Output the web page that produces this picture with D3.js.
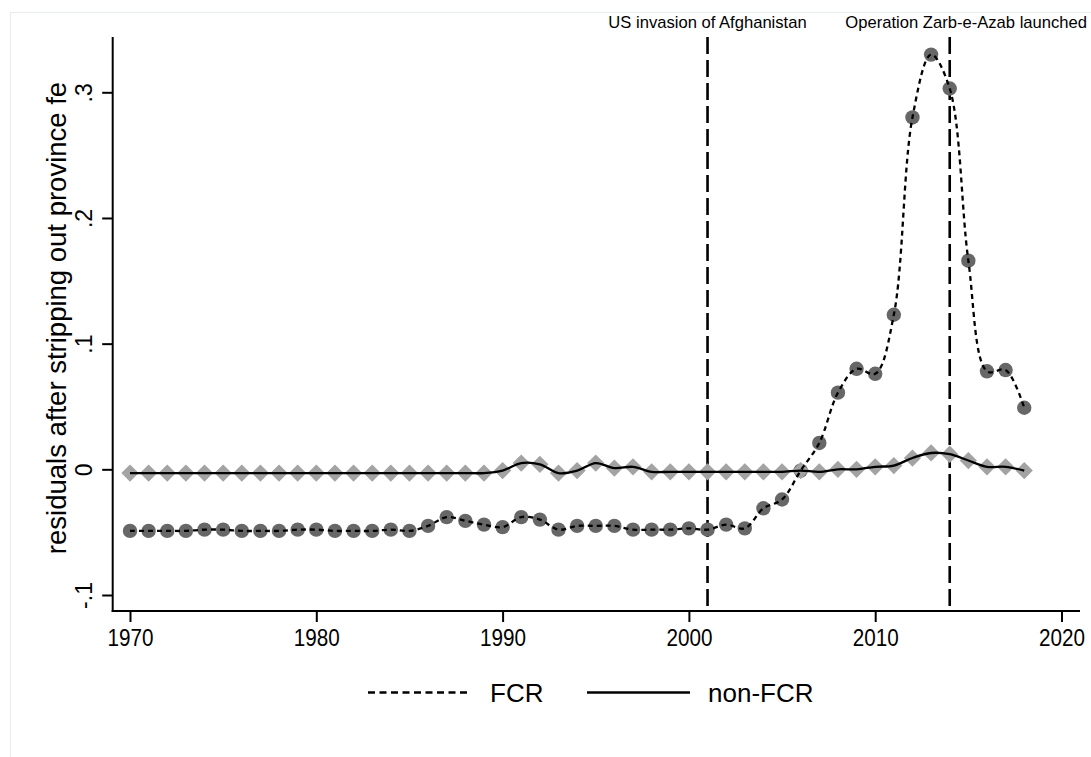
<!DOCTYPE html>
<html>
<head>
<meta charset="utf-8">
<script src="https://cdn.jsdelivr.net/npm/d3@7"></script>
<style>
  body { margin: 0; background: #fff; }
  text { font-family: "Liberation Sans", Arial, sans-serif; fill: #000; }
</style>
</head>
<body>
<script>
// years 1970..2018
var years = d3.range(1970, 2019);

var fcr = [
  -0.049, -0.049, -0.049, -0.049, -0.048, -0.048, -0.049, -0.049, -0.049, -0.048,
  -0.048, -0.049, -0.049, -0.049, -0.048, -0.049, -0.045, -0.038, -0.041, -0.044,
  -0.046, -0.038, -0.040, -0.048, -0.045, -0.045, -0.045, -0.048, -0.048, -0.048,
  -0.047, -0.048, -0.044, -0.047, -0.031, -0.024, -0.001, 0.021, 0.061, 0.080,
  0.076, 0.123, 0.280, 0.330, 0.303, 0.166, 0.078, 0.079, 0.049
];

var nonFcr = [
  -0.003, -0.003, -0.003, -0.003, -0.003, -0.003, -0.003, -0.003, -0.003, -0.003,
  -0.003, -0.003, -0.003, -0.003, -0.003, -0.003, -0.003, -0.003, -0.003, -0.003,
  -0.001, 0.005, 0.004, -0.003, -0.001, 0.005, 0.001, 0.002, -0.002, -0.002,
  -0.002, -0.002, -0.002, -0.002, -0.002, -0.002, -0.001, -0.002, 0.000, 0.000,
  0.002, 0.003, 0.009, 0.013, 0.012, 0.007, 0.002, 0.002, -0.001
];

var xTicks = [1970, 1980, 1990, 2000, 2010, 2020];
var yTicks = [-0.1, 0, 0.1, 0.2, 0.3];
var yTickLabels = ["-.1", "0", ".1", ".2", ".3"];

var events = [
  { year: 2001, label: "US invasion of Afghanistan" },
  { year: 2014, label: "Operation Zarb-e-Azab launched" }
];

var w = 1091,
  h = 757,
  plotLeft = 112.7,
  plotRight = 1080,
  plotTop = 37,
  plotBottom = 611;

var font = "'Liberation Sans', Arial, sans-serif";

var svg = d3.select("body")
  .append("svg")
  .attr("width", w)
  .attr("height", h);

// faint outer frame
svg.append("rect")
  .attr("x", 10.5)
  .attr("y", 12.5)
  .attr("width", 1100)
  .attr("height", 760)
  .attr("fill", "none")
  .attr("stroke", "#e8ecea")
  .attr("stroke-width", 1);

var xScale = d3.scaleLinear().domain([1970, 2020]).range([130, 1061.5]);
var yScale = d3.scaleLinear().domain([-0.1, 0.3]).range([595, 92.3]);

var fcrData = years.map((y, i) => ({ year: y, v: fcr[i] }));
var nonData = years.map((y, i) => ({ year: y, v: nonFcr[i] }));

// vertical event lines
svg.selectAll(".event-line")
  .data(events)
  .enter()
  .append("line")
  .attr("class", "event-line")
  .attr("x1", d => xScale(d.year))
  .attr("x2", d => xScale(d.year))
  .attr("y1", plotTop)
  .attr("y2", plotBottom)
  .attr("stroke", "#000")
  .attr("stroke-width", 2.6)
  .attr("stroke-dasharray", "17,6");

svg.append("text")
  .attr("x", xScale(2001))
  .attr("y", 28)
  .attr("text-anchor", "middle")
  .attr("font-size", 16.6)
  .text(events[0].label);

svg.append("text")
  .attr("x", 1087)
  .attr("y", 28)
  .attr("text-anchor", "end")
  .attr("font-size", 16.6)
  .text(events[1].label);

// markers
svg.selectAll(".dot")
  .data(fcrData)
  .enter()
  .append("circle")
  .attr("class", "dot")
  .attr("cx", d => xScale(d.year))
  .attr("cy", d => yScale(d.v))
  .attr("r", 7.2)
  .attr("fill", "#676767");

var diamond = d3.symbol().type(d3.symbolDiamond2).size(190);

svg.selectAll(".diamond")
  .data(nonData)
  .enter()
  .append("path")
  .attr("class", "diamond")
  .attr("d", diamond)
  .attr("transform", d => `translate(${xScale(d.year)}, ${yScale(d.v)})`)
  .attr("fill", "#a3a3a3");

var line = d3.line()
  .x(d => xScale(d.year))
  .y(d => yScale(d.v))
  .curve(d3.curveCatmullRom.alpha(0.5));

svg.append("path")
  .datum(fcrData)
  .attr("d", line)
  .attr("fill", "none")
  .attr("stroke", "#000")
  .attr("stroke-width", 2.3)
  .attr("stroke-dasharray", "5,4");

svg.append("path")
  .datum(nonData)
  .attr("d", line)
  .attr("fill", "none")
  .attr("stroke", "#000")
  .attr("stroke-width", 2.3);

// axes
var xAxis = d3.axisBottom(xScale).tickValues(xTicks).tickFormat(d3.format("d")).tickSize(11).tickPadding(7);
var gx = svg.append("g")
  .attr("id", "x-axis")
  .attr("transform", `translate(0, ${plotBottom})`)
  .call(xAxis);
gx.attr("font-size", 23.5).attr("font-family", font);
gx.select(".domain").remove();
gx.append("line")
  .attr("x1", plotLeft - 1)
  .attr("x2", plotRight)
  .attr("stroke", "#000")
  .attr("stroke-width", 2);
gx.selectAll(".tick line").attr("stroke-width", 2);
// the labels are tall and narrow in the original
gx.selectAll(".tick text")
  .attr("fill", "#000")
  .attr("transform", function() {
    var y = +d3.select(this).attr("y");
    return `translate(0, ${y}) scale(0.88, 1)`;
  })
  .attr("y", 0);

var yAxis = d3.axisLeft(yScale).tickValues(yTicks).tickFormat((d, i) => yTickLabels[i]).tickSize(10.5);
var gy = svg.append("g")
  .attr("id", "y-axis")
  .attr("transform", `translate(${plotLeft}, 0)`)
  .call(yAxis);
gy.attr("font-size", 23).attr("font-family", font);
gy.select(".domain").remove();
gy.append("line")
  .attr("y1", plotTop)
  .attr("y2", plotBottom + 1)
  .attr("stroke", "#000")
  .attr("stroke-width", 2);
gy.selectAll(".tick line").attr("stroke-width", 2);
gy.selectAll(".tick text")
  .attr("fill", "#000")
  .attr("x", null)
  .attr("dy", null)
  .attr("text-anchor", "middle")
  .attr("transform", "translate(-21, 0) rotate(-90)");

// y title
svg.append("text")
  .attr("transform", "translate(66, 318) rotate(-90)")
  .attr("text-anchor", "middle")
  .attr("font-size", 27.5)
  .text("residuals after stripping out province fe");

// legend
var legend = svg.append("g").attr("id", "legend");
legend.append("line")
  .attr("x1", 368).attr("x2", 470)
  .attr("y1", 692.5).attr("y2", 692.5)
  .attr("stroke", "#000")
  .attr("stroke-width", 2.3)
  .attr("stroke-dasharray", "7,4.5");
legend.append("text")
  .attr("x", 490).attr("y", 701.5)
  .attr("font-size", 26)
  .text("FCR");
legend.append("line")
  .attr("x1", 587).attr("x2", 690)
  .attr("y1", 692.5).attr("y2", 692.5)
  .attr("stroke", "#000")
  .attr("stroke-width", 2.3);
legend.append("text")
  .attr("x", 708).attr("y", 701.5)
  .attr("font-size", 26)
  .text("non-FCR");
</script>
</body>
</html>
